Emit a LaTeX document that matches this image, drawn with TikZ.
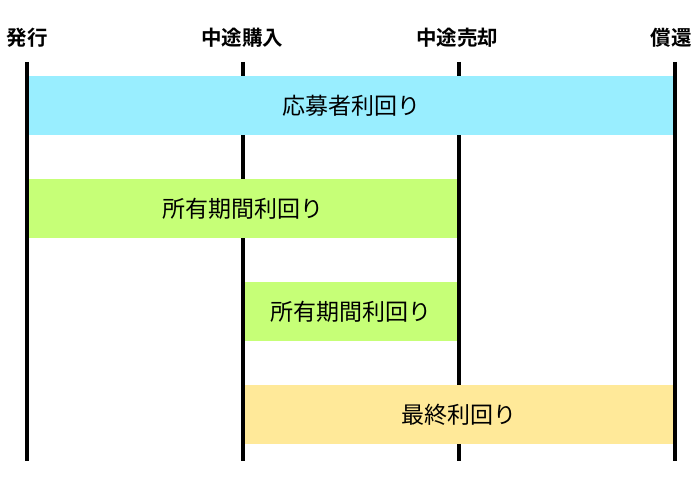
\documentclass[tikz,border=0pt]{standalone}
\usepackage{fontspec}
\setmainfont{Noto Sans CJK JP}
\newfontfamily\jpbold{Noto Sans CJK JP Bold}
\usepackage{tikz}
\definecolor{barcyan}{RGB}{153,238,255}
\definecolor{bargreen}{RGB}{198,255,119}
\definecolor{baryellow}{RGB}{255,233,153}

\begin{document}
\begin{tikzpicture}[x=1pt,y=-1pt,
  stage/.style={font=\jpbold\fontsize{20.5}{20.5}\selectfont, inner sep=0pt},
  yieldbar/.style={inner sep=0pt, minimum height=59pt, font=\fontsize{23}{23}\selectfont}]
\useasboundingbox (0,0) rectangle (700,500);
% time axis
\node[stage] (issue) at (27,38) {発行};
\node[stage] (buy) at (242,38) {中途購入};
\node[stage] (sell) at (457,38) {中途売却};
\node[stage] (redeem) at (671,38) {償還};
\coordinate (issuetop) at (27,62);
\coordinate (issuebot) at (27,461);
\coordinate (buytop) at (243,62);
\coordinate (buybot) at (243,461);
\coordinate (selltop) at (459,62);
\coordinate (sellbot) at (459,461);
\coordinate (redeemtop) at (675,62);
\coordinate (redeembot) at (675,461);
\draw[line width=4pt] (issuetop) -- (issuebot);
\draw[line width=4pt] (buytop) -- (buybot);
\draw[line width=4pt] (selltop) -- (sellbot);
\draw[line width=4pt] (redeemtop) -- (redeembot);
% yields
\node[yieldbar, fill=barcyan, minimum width=644pt] (oubo) at (351,105.5) {応募者利回り};
\node[yieldbar, fill=bargreen, minimum width=428pt] (hoyuA) at (243,208.5) {所有期間利回り};
\node[yieldbar, fill=bargreen, minimum width=212pt] (hoyuB) at (351,311.5) {所有期間利回り};
\node[yieldbar, fill=baryellow, minimum width=428pt] (saishu) at (459,414.5) {最終利回り};
\end{tikzpicture}
\end{document}
